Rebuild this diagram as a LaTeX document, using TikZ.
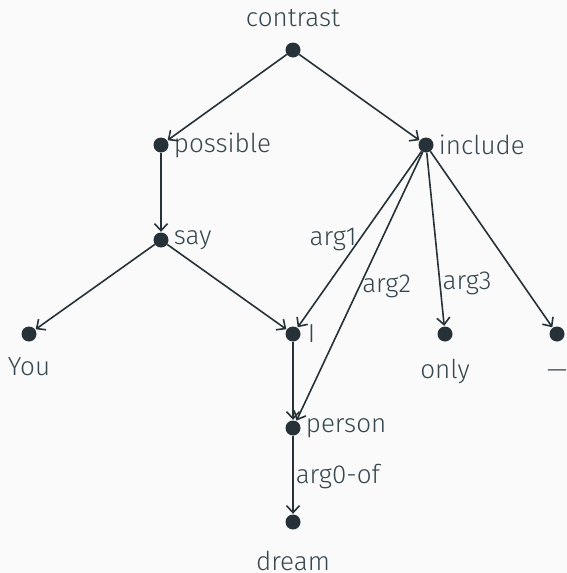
\documentclass[tikz,border=0pt]{standalone}
\usepackage{fontspec}
\setmainfont{Fira Sans}[UprightFont=* Light]
\usetikzlibrary{arrows.meta}
\definecolor{ink}{HTML}{263238}
\definecolor{txt}{HTML}{37474F}
\definecolor{bg}{HTML}{FAFAFA}
\begin{document}
\begin{tikzpicture}[x=1pt,y=-1pt,
  dot/.style={circle,fill=ink,draw=none,minimum size=15pt,inner sep=0pt},
  lab/.style={text=txt,font=\fontsize{26}{30}\selectfont,inner sep=1pt},
  vlab/.style={lab,text height=19pt,text depth=6pt},
  elab/.style={text=txt,font=\fontsize{26}{30}\selectfont,inner sep=2pt},
  edge/.style={draw=ink,line width=1.6pt,-{Straight Barb[length=7pt,width=13pt,line width=1.6pt]},shorten >=0.5pt}
]
\fill[bg] (0,0) rectangle (567,573);
\useasboundingbox (0,0) rectangle (567,573);
\node[dot,label={[vlab,label distance=8.5pt]above:contrast}] (contrast) at (293,50) {};
\node[dot,label={[lab,label distance=4pt]right:possible}] (possible) at (161,145) {};
\node[dot,label={[lab,label distance=4pt]right:include}] (include) at (426,145) {};
\node[dot,label={[lab,label distance=4pt]right:say}] (say) at (161,240) {};
\node[dot,label={[vlab,label distance=13.5pt]below:You}] (you) at (29,334) {};
\node[dot,label={[lab,label distance=6pt]right:I}] (i) at (293,334) {};
\node[dot,label={[vlab,label distance=16.5pt]below:only}] (only) at (445,334) {};
\node[dot,label={[vlab,label distance=16.5pt]below:—}] (dash) at (557,334) {};
\node[dot,label={[lab,label distance=4pt]right:person}] (person) at (293,428) {};
\node[dot,label={[vlab,label distance=20.5pt]below:dream}] (dream) at (293,522) {};
\path[edge] (contrast) -- (possible);
\path[edge] (contrast) -- (include);
\path[edge] (possible) -- (say);
\path[edge] (say) -- (you);
\path[edge] (say) -- (i);
\path[edge] (include) -- node[elab,pos=0.5,left]{arg1} (i);
\path[edge] (include) -- node[elab,pos=0.5,right]{arg2} (person);
\path[edge] (include) -- node[elab,pos=0.75,right]{arg3} (only);
\path[edge] (include) -- (dash);
\path[edge] (i) -- (person);
\path[edge] (person) -- node[elab,pos=0.52,right]{arg0-of} (dream);
\end{tikzpicture}
\end{document}
